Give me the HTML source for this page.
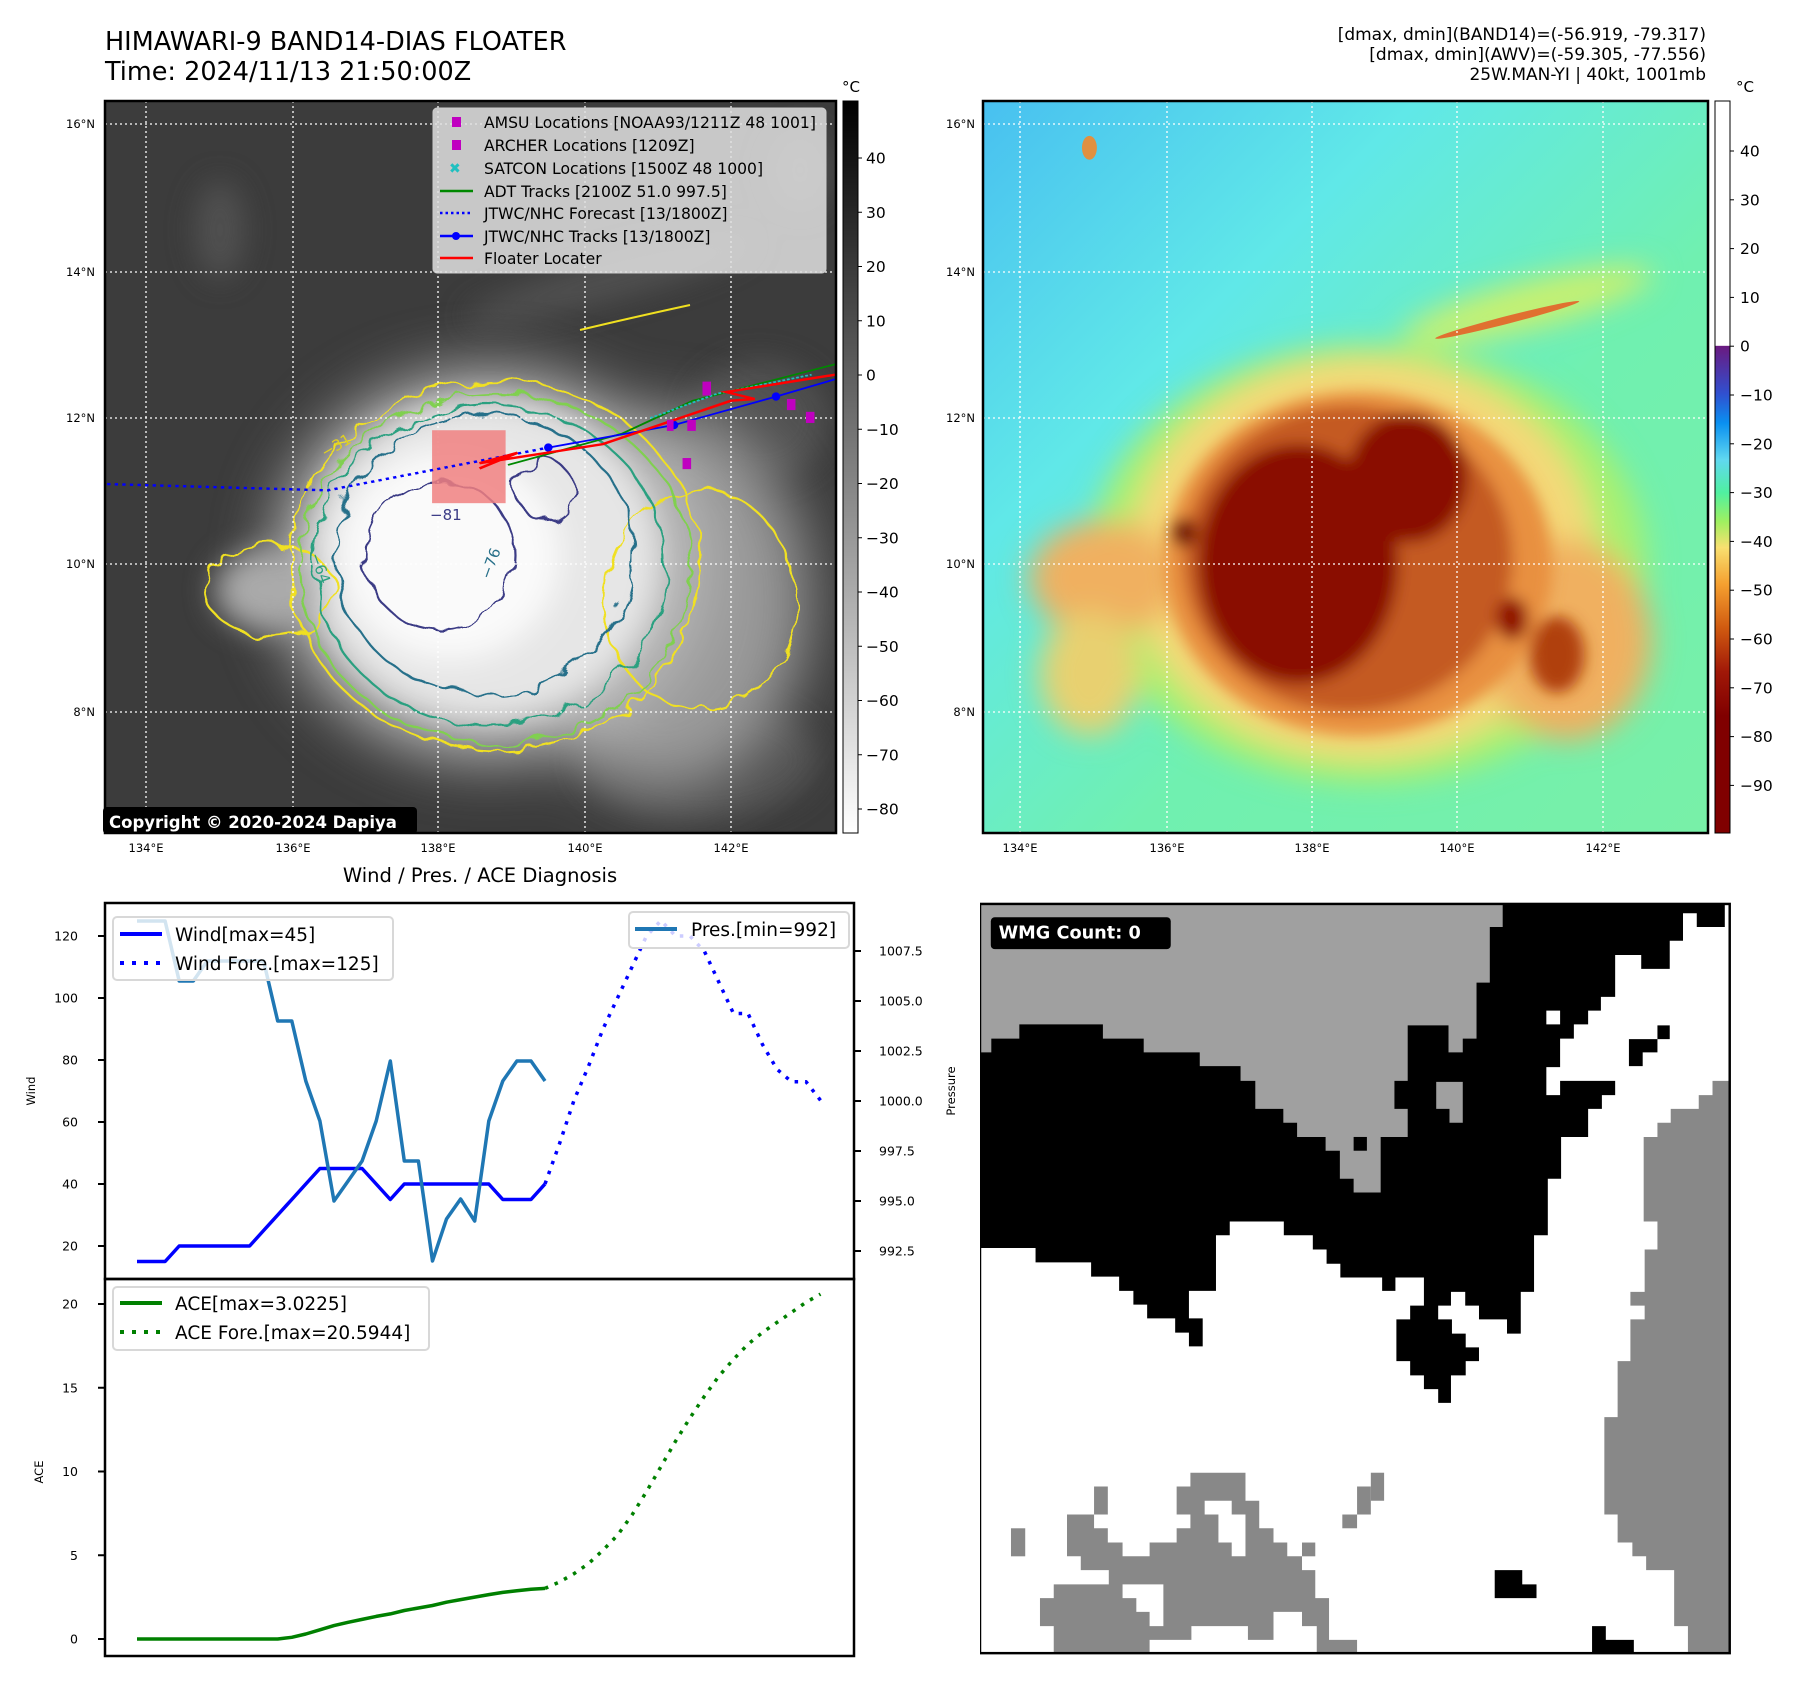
<!DOCTYPE html>
<html><head><meta charset="utf-8">
<style>
html,body{margin:0;padding:0;background:#fff;}
body{width:1797px;height:1690px;position:relative;overflow:hidden;font-family:"DejaVu Sans","Liberation Sans",sans-serif;}
svg text{font-family:"DejaVu Sans","Liberation Sans",sans-serif;}
</style></head>
<body>
<svg id="fig" width="1797" height="1690" viewBox="0 0 1797 1690" xmlns="http://www.w3.org/2000/svg" style="position:absolute;left:0;top:0">
<defs>
  <linearGradient id="cb1" x1="0" y1="0" x2="0" y2="1"><stop offset="0" stop-color="#000"/><stop offset="1" stop-color="#fff"/></linearGradient>
  <linearGradient id="cb2" x1="0" y1="0" x2="0" y2="1">
    <stop offset="0" stop-color="#fff"/><stop offset="0.334" stop-color="#fff"/>
    <stop offset="0.335" stop-color="#6a1a80"/><stop offset="0.40" stop-color="#3050d0"/>
    <stop offset="0.44" stop-color="#0a90f0"/><stop offset="0.49" stop-color="#60d8f0"/>
    <stop offset="0.535" stop-color="#50f0a0"/><stop offset="0.575" stop-color="#a0f060"/>
    <stop offset="0.61" stop-color="#f8e070"/><stop offset="0.66" stop-color="#f5a030"/>
    <stop offset="0.72" stop-color="#d05a10"/><stop offset="0.78" stop-color="#a01808"/>
    <stop offset="0.84" stop-color="#800000"/><stop offset="1" stop-color="#800000"/></linearGradient>
  <linearGradient id="bg2" x1="0" y1="0" x2="1" y2="1"><stop offset="0" stop-color="#48c0f0"/><stop offset="0.3" stop-color="#60e8e8"/><stop offset="0.6" stop-color="#70f0b0"/><stop offset="1" stop-color="#78f0a8"/></linearGradient>
  <filter id="b30" x="-50%" y="-50%" width="200%" height="200%"><feGaussianBlur stdDeviation="30"/></filter>
  <filter id="b15" x="-50%" y="-50%" width="200%" height="200%"><feGaussianBlur stdDeviation="15"/></filter>
  <filter id="b8" x="-50%" y="-50%" width="200%" height="200%"><feGaussianBlur stdDeviation="8"/></filter>
  <filter id="wob" x="-20%" y="-20%" width="140%" height="140%"><feTurbulence type="fractalNoise" baseFrequency="0.04" numOctaves="2" seed="3"/><feDisplacementMap in="SourceGraphic" scale="22"/></filter>
  <clipPath id="clipL"><rect x="105" y="101" width="731" height="732"/></clipPath>
  <clipPath id="clipR"><rect x="983" y="101" width="725" height="732"/></clipPath>
</defs>

<!-- titles -->
<text x="105" y="50" font-size="25.5">HIMAWARI-9 BAND14-DIAS FLOATER</text>
<text x="105" y="80" font-size="25.5">Time: 2024/11/13 21:50:00Z</text>
<g font-size="17" text-anchor="end">
  <text x="1706" y="40">[dmax, dmin](BAND14)=(-56.919, -79.317)</text>
  <text x="1706" y="60">[dmax, dmin](AWV)=(-59.305, -77.556)</text>
  <text x="1706" y="80">25W.MAN-YI | 40kt, 1001mb</text>
</g>

<!-- LEFT MAP -->
<g clip-path="url(#clipL)">
  <rect x="105" y="101" width="731" height="732" fill="#3c3c3c"/>
  <g filter="url(#b15)" fill="#5a5a5a" opacity="0.7">
    <ellipse cx="220" cy="230" rx="25" ry="50"/><ellipse cx="610" cy="280" rx="150" ry="20" transform="rotate(-15 610 280)"/>
    <ellipse cx="760" cy="420" rx="70" ry="60"/><ellipse cx="700" cy="760" rx="120" ry="60"/>
    <ellipse cx="800" cy="170" rx="30" ry="40"/>
  </g>
  <g filter="url(#b30)">
    <ellipse cx="660" cy="600" rx="150" ry="190" fill="#999"/>
    <ellipse cx="490" cy="565" rx="215" ry="195" fill="#b8b8b8"/>
  </g>
  <g filter="url(#b15)">
    <ellipse cx="485" cy="560" rx="175" ry="160" fill="#e6e6e6"/>
    <ellipse cx="450" cy="555" rx="110" ry="105" fill="#fafafa"/>
    <ellipse cx="270" cy="590" rx="55" ry="40" fill="#aaa"/>
  </g>
  <g fill="none" stroke-width="2.2" filter="url(#wob)">
    <ellipse cx="495" cy="565" rx="205" ry="185" stroke="#f0e020"/>
    <ellipse cx="270" cy="590" rx="65" ry="45" stroke="#f0e020"/>
    <ellipse cx="700" cy="600" rx="95" ry="110" stroke="#f0e020"/>
    <ellipse cx="495" cy="568" rx="195" ry="175" stroke="#80d050"/>
    <ellipse cx="490" cy="565" rx="175" ry="160" stroke="#2aa080"/>
    <ellipse cx="485" cy="555" rx="150" ry="140" stroke="#28708a"/>
    <ellipse cx="440" cy="555" rx="75" ry="75" stroke="#3a3a85"/>
    <ellipse cx="545" cy="490" rx="28" ry="30" stroke="#3a3a85"/>
  </g>
  <path d="M580 330 Q630 318 690 305" stroke="#f0e020" stroke-width="2" fill="none"/>
  <text x="325" y="458" fill="#e0d020" font-size="15" transform="rotate(-30 325 458)">−31</text>
  <text x="310" y="555" fill="#2aa080" font-size="15" transform="rotate(70 310 555)">−64</text>
  <text x="490" y="580" fill="#28708a" font-size="15" transform="rotate(-70 490 580)">−76</text>
  <text x="430" y="520" fill="#3a3a85" font-size="15">−81</text>
  <g stroke="#fff" stroke-width="1.3" stroke-dasharray="2,3">
    <line x1="146" y1="101" x2="146" y2="833"/><line x1="293" y1="101" x2="293" y2="833"/><line x1="438" y1="101" x2="438" y2="833"/><line x1="585" y1="101" x2="585" y2="833"/><line x1="731" y1="101" x2="731" y2="833"/>
    <line x1="105" y1="124" x2="836" y2="124"/><line x1="105" y1="272" x2="836" y2="272"/><line x1="105" y1="418" x2="836" y2="418"/><line x1="105" y1="564" x2="836" y2="564"/><line x1="105" y1="712" x2="836" y2="712"/>
  </g>
  <g transform="translate(100,300) scale(0.4744,0.3473)">
    <rect x="700" y="375" width="155" height="210" fill="#f08080" opacity="0.85"/>
    <polyline points="15,530 480,548 945,425" fill="none" stroke="#00f" stroke-width="7" stroke-dasharray="7,9"/>
    <polyline points="860,475 1100,385 1250,290 1550,185" fill="none" stroke="#080" stroke-width="5"/>
    <polyline points="1160,340 1300,270 1500,215" fill="none" stroke="#20c0c0" stroke-width="5" stroke-dasharray="6,4"/>
    <polyline points="945,425 1210,360 1425,278 1550,228" fill="none" stroke="#00f" stroke-width="5"/>
    <g fill="#00f"><ellipse cx="945" cy="425" rx="9" ry="12"/><ellipse cx="1210" cy="360" rx="9" ry="12"/><ellipse cx="1425" cy="278" rx="9" ry="12"/></g>
    <polyline points="800,485 880,440 800,470 1060,415 1330,290 1380,285 1320,265 1550,215" fill="none" stroke="#f00" stroke-width="7"/>
    <g fill="#c000c0">
      <rect x="1270" y="235" width="18" height="40"/><rect x="1448" y="285" width="18" height="32"/><rect x="1488" y="322" width="18" height="32"/>
      <rect x="1238" y="345" width="18" height="32"/><rect x="1228" y="455" width="18" height="32"/><rect x="1195" y="345" width="14" height="32"/>
    </g>
  </g>
</g>
<rect x="105" y="101" width="731" height="732" fill="none" stroke="#000" stroke-width="2.5"/>
<g>
  <rect x="103" y="807" width="314" height="27" rx="4" fill="#000"/>
  <text x="109" y="828" fill="#fff" font-size="16.5" font-weight="bold">Copyright © 2020-2024 Dapiya</text>
</g>
<g>
  <rect x="433" y="108" width="393" height="165" rx="4" fill="#e0e0e0" fill-opacity="0.85" stroke="#ccc"/>
  <g font-size="15.6" fill="#000">
    <rect x="452" y="117" width="9" height="10" fill="#c000c0"/><text x="484" y="128">AMSU Locations [NOAA93/1211Z 48 1001]</text>
    <rect x="452" y="140" width="9" height="10" fill="#c000c0"/><text x="484" y="151">ARCHER Locations [1209Z]</text>
    <text x="449" y="173" fill="#20c0c0" font-weight="bold" font-size="14">✖</text><text x="484" y="174">SATCON Locations [1500Z 48 1000]</text>
    <line x1="440" y1="191" x2="473" y2="191" stroke="#080" stroke-width="2.5"/><text x="484" y="197">ADT Tracks [2100Z 51.0 997.5]</text>
    <line x1="440" y1="213" x2="473" y2="213" stroke="#00f" stroke-width="2.5" stroke-dasharray="2.5,3"/><text x="484" y="219">JTWC/NHC Forecast [13/1800Z]</text>
    <line x1="440" y1="236" x2="473" y2="236" stroke="#00f" stroke-width="2.5"/><circle cx="456" cy="236" r="4" fill="#00f"/><text x="484" y="242">JTWC/NHC Tracks [13/1800Z]</text>
    <line x1="440" y1="258" x2="473" y2="258" stroke="#f00" stroke-width="2.5"/><text x="484" y="264">Floater Locater</text>
  </g>
</g>
<g font-size="11.5" text-anchor="end">
  <text x="95" y="128">16°N</text><text x="95" y="276">14°N</text><text x="95" y="422">12°N</text><text x="95" y="568">10°N</text><text x="95" y="716">8°N</text>
</g>
<g font-size="11.5" text-anchor="middle">
  <text x="146" y="852">134°E</text><text x="293" y="852">136°E</text><text x="438" y="852">138°E</text><text x="585" y="852">140°E</text><text x="731" y="852">142°E</text>
</g>
<g>
  <rect x="843" y="101" width="15" height="732" fill="url(#cb1)" stroke="#000" stroke-width="1"/>
  <text x="851" y="92" font-size="15" text-anchor="middle">°C</text>
  <g id="cb1ticks" font-size="15.5"></g>
</g>

<!-- RIGHT MAP -->
<g clip-path="url(#clipR)">
  <rect x="983" y="101" width="725" height="732" fill="url(#bg2)"/>
  <g transform="translate(980,100) scale(0.4974,0.478)">
    <g filter="url(#b30)">
      <ellipse cx="1100" cy="430" rx="260" ry="50" fill="#c8f070" transform="rotate(-15 1100 430)"/>
      <ellipse cx="780" cy="970" rx="560" ry="460" fill="#a8f070"/>
      <ellipse cx="770" cy="960" rx="470" ry="420" fill="#f4d878"/>
      <ellipse cx="250" cy="1000" rx="150" ry="120" fill="#f0b060"/>
      <ellipse cx="1180" cy="1130" rx="170" ry="210" fill="#f0b060"/>
      <ellipse cx="220" cy="1200" rx="100" ry="130" fill="#e8d070"/>
    </g>
    <g filter="url(#b15)">
      <ellipse cx="760" cy="970" rx="390" ry="360" fill="#e89040"/>
      <ellipse cx="740" cy="960" rx="330" ry="320" fill="#c45a20"/>
      <ellipse cx="640" cy="970" rx="200" ry="250" fill="#8a0800"/>
      <ellipse cx="860" cy="790" rx="120" ry="135" fill="#8a0800"/>
      <ellipse cx="1160" cy="1160" rx="55" ry="80" fill="#b04010"/>
      <ellipse cx="1070" cy="1085" rx="32" ry="45" fill="#901000"/>
      <ellipse cx="410" cy="905" rx="25" ry="30" fill="#701000"/>
    </g>
    <ellipse cx="1060" cy="460" rx="150" ry="8" fill="#e07030" transform="rotate(-15 1060 460)"/>
    <ellipse cx="220" cy="100" rx="15" ry="25" fill="#e09040"/>
  </g>
  <g stroke="#fff" stroke-width="1.3" stroke-dasharray="2,3">
    <line x1="1020" y1="101" x2="1020" y2="833"/><line x1="1167" y1="101" x2="1167" y2="833"/><line x1="1312" y1="101" x2="1312" y2="833"/><line x1="1457" y1="101" x2="1457" y2="833"/><line x1="1603" y1="101" x2="1603" y2="833"/>
    <line x1="983" y1="124" x2="1708" y2="124"/><line x1="983" y1="272" x2="1708" y2="272"/><line x1="983" y1="418" x2="1708" y2="418"/><line x1="983" y1="564" x2="1708" y2="564"/><line x1="983" y1="712" x2="1708" y2="712"/>
  </g>
</g>
<rect x="983" y="101" width="725" height="732" fill="none" stroke="#000" stroke-width="2.5"/>
<g font-size="11.5" text-anchor="end">
  <text x="975" y="128">16°N</text><text x="975" y="276">14°N</text><text x="975" y="422">12°N</text><text x="975" y="568">10°N</text><text x="975" y="716">8°N</text>
</g>
<g font-size="11.5" text-anchor="middle">
  <text x="1020" y="852">134°E</text><text x="1167" y="852">136°E</text><text x="1312" y="852">138°E</text><text x="1457" y="852">140°E</text><text x="1603" y="852">142°E</text>
</g>
<g>
  <rect x="1715" y="101" width="15" height="732" fill="url(#cb2)" stroke="#000" stroke-width="1"/>
  <text x="1745" y="92" font-size="15" text-anchor="middle">°C</text>
  <g id="cb2ticks" font-size="15.5"></g>
</g>

<!-- WIND / PRES / ACE -->
<text x="480" y="882" font-size="19.5" text-anchor="middle">Wind / Pres. / ACE Diagnosis</text>
<g id="windChart"></g>
<g id="aceChart"></g>
<rect x="105" y="903" width="749" height="376" fill="none" stroke="#000" stroke-width="2.5"/>
<rect x="105" y="1279" width="749" height="377" fill="none" stroke="#000" stroke-width="2.5"/>
<text x="35" y="1091" font-size="11.5" text-anchor="middle" transform="rotate(-90 35 1091)">Wind</text>
<text x="955" y="1091" font-size="11.5" text-anchor="middle" transform="rotate(-90 955 1091)">Pressure</text>
<text x="43" y="1472" font-size="11.5" text-anchor="middle" transform="rotate(-90 43 1472)">ACE</text>

<g>
  <rect x="113" y="917" width="280" height="63" rx="4" fill="#fff" fill-opacity="0.8" stroke="#d8d8d8" stroke-width="2"/>
  <line x1="120" y1="934" x2="162" y2="934" stroke="#00f" stroke-width="4"/>
  <text x="175" y="941" font-size="18.5">Wind[max=45]</text>
  <line x1="120" y1="963" x2="162" y2="963" stroke="#00f" stroke-width="4" stroke-dasharray="4,8"/>
  <text x="175" y="970" font-size="18.5">Wind Fore.[max=125]</text>
</g>
<g>
  <rect x="629" y="912" width="220" height="36" rx="4" fill="#fff" fill-opacity="0.8" stroke="#d8d8d8" stroke-width="2"/>
  <line x1="635" y1="929" x2="677" y2="929" stroke="#1f77b4" stroke-width="4"/>
  <text x="691" y="936" font-size="18.5">Pres.[min=992]</text>
</g>
<g>
  <rect x="113" y="1287" width="316" height="63" rx="4" fill="#fff" fill-opacity="0.8" stroke="#d8d8d8" stroke-width="2"/>
  <line x1="120" y1="1303" x2="162" y2="1303" stroke="#008000" stroke-width="4"/>
  <text x="175" y="1310" font-size="18.5">ACE[max=3.0225]</text>
  <line x1="120" y1="1332" x2="162" y2="1332" stroke="#008000" stroke-width="4" stroke-dasharray="4,8"/>
  <text x="175" y="1339" font-size="18.5">ACE Fore.[max=20.5944]</text>
</g>

<!-- WMG PANEL -->
<g>
<svg x="980" y="900" width="762" height="762" viewBox="0 0 1550 1550" preserveAspectRatio="none">
  <rect x="0" y="8" width="1525" height="1524" fill="#fff"/>
  <polygon fill="#000" points="0,310 0,708 113,708 113,737 226,737 226,766 283,766 283,795 312,795 312,823 340,823 340,851 397,851 397,880 425,880 425,908 453,908 453,851 425,851 425,795 480,795 480,682 508,682 508,654 618,654 618,682 677,682 677,711 705,711 705,740 733,740 733,768 818,768 818,795 845,795 845,768 903,768 903,825 875,825 875,853 847,853 847,938 875,938 875,967 903,967 903,995 932,995 932,1023 958,1023 958,967 988,967 988,938 1015,938 1015,910 988,910 988,882 960,882 960,853 932,853 932,825 958,825 958,797 987,797 987,825 1015,825 1015,853 1072,853 1072,882 1100,882 1100,797 1127,797 1127,682 1155,682 1155,567 1182,567 1182,482 1237,482 1237,425 1265,425 1265,397 1292,397 1292,368 1180,368 1180,397 1152,397 1152,340 1180,340 1180,282 1208,282 1208,253 1237,253 1237,225 1263,225 1263,197 1292,197 1292,112 1345,112 1345,140 1403,140 1403,83 1430,83 1430,27 1458,27 1458,55 1515,55 1515,8 1063,8 1063,55 0,55"/>
  <polygon fill="#a0a0a0" points="0,8 1063,8 1063,55 1037,55 1037,168 1010,168 1010,282 982,282 982,310 953,310 953,255 870,255 870,368 843,368 843,425 870,425 870,482 815,482 815,595 760,595 760,567 732,567 732,510 703,510 703,482 645,482 645,453 617,453 617,425 560,425 560,368 530,368 530,338 447,338 447,310 333,310 333,282 250,282 250,253 80,253 80,282 23,282 23,310 0,310"/>
  <polygon fill="#a0a0a0" points="928,370 982,370 982,453 955,453 955,425 928,425"/>
  <rect x="760" y="482" width="27" height="28" fill="#000"/>
  <rect x="1152" y="225" width="28" height="28" fill="#fff"/>
  <polygon fill="#000" points="1378,255 1403,255 1403,283 1378,283 1378,310 1348,310 1348,338 1320,338 1320,283 1378,283"/>
  <polygon fill="#888" points="1525,368 1490,368 1490,397 1462,397 1462,425 1405,425 1405,453 1378,453 1378,482 1350,482 1350,654 1378,654 1378,711 1352,711 1352,797 1323,797 1323,825 1352,825 1352,853 1323,853 1323,938 1297,938 1297,1052 1270,1052 1270,1250 1297,1250 1297,1307 1327,1307 1327,1335 1355,1335 1355,1363 1412,1363 1412,1477 1440,1477 1440,1532 1525,1532"/>
  <polygon fill="#888" points="150,1532 150,1477 122,1477 122,1420 150,1420 150,1392 262,1392 262,1363 205,1363 205,1335 177,1335 177,1250 232,1250 232,1278 260,1278 260,1307 290,1307 290,1335 345,1335 345,1307 400,1307 400,1278 428,1278 428,1250 400,1250 400,1193 428,1193 428,1165 540,1165 540,1222 568,1222 568,1278 597,1278 597,1307 625,1307 625,1335 655,1335 655,1363 682,1363 682,1420 710,1420 710,1505 767,1505 767,1532"/>
  <polygon fill="#fff" points="290,1392 373,1392 373,1477 345,1477 345,1448 318,1448 318,1420 290,1420"/>
  <polygon fill="#fff" points="457,1222 512,1222 512,1250 540,1250 540,1335 512,1335 512,1307 485,1307 485,1250 457,1250"/>
  <polygon fill="#fff" points="345,1505 430,1505 430,1477 545,1477 545,1505 597,1505 597,1448 655,1448 655,1477 685,1477 685,1532 345,1532"/>
  <g fill="#888"><rect x="63" y="1278" width="29" height="57"/><rect x="232" y="1193" width="28" height="57"/><rect x="655" y="1307" width="27" height="28"/><rect x="737" y="1250" width="30" height="28"/><rect x="767" y="1193" width="28" height="57"/><rect x="795" y="1165" width="27" height="57"/></g>
  <polygon fill="#000" points="1047,1363 1103,1363 1103,1392 1132,1392 1132,1420 1047,1420"/>
  <polygon fill="#000" points="1245,1477 1273,1477 1273,1505 1330,1505 1330,1532 1245,1532"/>
  <rect x="0" y="8" width="1525" height="1524" fill="none" stroke="#000" stroke-width="5"/>
  <rect x="22" y="35" width="366" height="65" rx="8" fill="#000"/>
  <text x="38" y="78" fill="#fff" font-size="36" font-weight="bold">WMG Count: 0</text>
</svg>
</g>
</svg>

<script>
// ---- data ----
const windObs = [15,15,15,20,20,20,20,20,20,25,30,35,40,45,45,45,45,40,35,40,40,40,40,40,40,40,35,35,35,40];
const windFore = [40,53,67,78,90,100,110,120,125,120,120,115,105,95,95,85,77,73,73,67];
const presObs = [1009,1009,1009,1006,1006,1007,1007,1007,1007,1007,1004,1004,1001,999,995,996,997,999,1002,997,997,992,994.1,995.1,994,999,1001,1002,1002,1001];
const aceObs = [0,0,0,0,0,0,0,0,0,0,0,0.1,0.3,0.55,0.8,1.0,1.17,1.35,1.5,1.7,1.85,2.0,2.2,2.35,2.5,2.65,2.78,2.88,2.97,3.02];
const aceFore = [3.02,3.4,3.9,4.5,5.3,6.2,7.4,8.8,10.3,11.8,13.2,14.5,15.7,16.7,17.6,18.3,18.9,19.5,20.1,20.59];
const windTicks = [20,40,60,80,100,120];
const presTicks = [992.5,995.0,997.5,1000.0,1002.5,1005.0,1007.5];
const aceTicks = [0,5,10,15,20];
const cb1Ticks = [40,30,20,10,0,-10,-20,-30,-40,-50,-60,-70,-80];
const cb2Ticks = [40,30,20,10,0,-10,-20,-30,-40,-50,-60,-70,-80,-90];

const NS = 'http://www.w3.org/2000/svg';
const xAt = i => i <= 29 ? 137 + 14.07 * i : 545 + 14.5 * (i - 29);
const yWind = w => 1246 - (w - 20) * 3.1;
const yPres = p => 1251 - (p - 992.5) * 20;
const yAce = a => 1639 - a * 16.75;
const yCb1 = v => 158 + (40 - v) * 5.425;
const yCb2 = v => 151 + (40 - v) * 4.88;

function mk(tag, attrs, parent) {
  const e = document.createElementNS(NS, tag);
  for (const k in attrs) e.setAttribute(k, attrs[k]);
  parent.appendChild(e);
  return e;
}
function line(pts, color, w, dash, parent, name) {
  const p = mk('polyline', {points: pts.map(q => q[0].toFixed(1) + ',' + q[1].toFixed(1)).join(' '), fill: 'none', stroke: color, 'stroke-width': w, 'stroke-linejoin': 'round'}, parent);
  if (dash) p.setAttribute('stroke-dasharray', dash);
  
  
  return p;
}
function tickLabel(x, y, txt, anchor, parent, size) {
  const t = mk('text', {x: x, y: y, 'text-anchor': anchor, 'font-size': size || 12.5}, parent);
  t.textContent = txt;
  
  
  return t;
}

const wc = document.getElementById('windChart');
const ac = document.getElementById('aceChart');
windTicks.forEach(v => {
  const y = yWind(v);
  mk('line', {x1: 98, x2: 105, y1: y, y2: y, stroke: '#000', 'stroke-width': 2}, wc);
  tickLabel(78, y + 4.5, String(v), 'end', wc);
});
presTicks.forEach(v => {
  const y = yPres(v);
  mk('line', {x1: 854, x2: 861, y1: y, y2: y, stroke: '#000', 'stroke-width': 2}, wc);
  tickLabel(879, y + 4.5, v.toFixed(1), 'start', wc);
});
aceTicks.forEach(v => {
  const y = yAce(v);
  mk('line', {x1: 98, x2: 105, y1: y, y2: y, stroke: '#000', 'stroke-width': 2}, ac);
  tickLabel(78, y + 4.5, String(v), 'end', ac);
});
line(windObs.map((v, i) => [xAt(i), yWind(v)]), '#0000ff', 3.5, null, wc, 'wind-line');
line(windFore.map((v, i) => [xAt(i + windObs.length - 1), yWind(v)]), '#0000ff', 3.5, '3.5,7', wc, 'wind-forecast-line');
line(presObs.map((v, i) => [xAt(i), yPres(v)]), '#1f77b4', 3.5, null, wc, 'pressure-line');
line(aceObs.map((v, i) => [xAt(i), yAce(v)]), '#008000', 3.5, null, ac, 'ace-line');
line(aceFore.map((v, i) => [xAt(i + aceObs.length - 1), yAce(v)]), '#008000', 3.5, '3.5,7', ac, 'ace-forecast-line');

const c1 = document.getElementById('cb1ticks');
cb1Ticks.forEach(v => {
  const y = yCb1(v);
  mk('line', {x1: 858, x2: 862, y1: y, y2: y, stroke: '#000', 'stroke-width': 1}, c1);
  tickLabel(866, y + 5.5, (v < 0 ? '−' : '') + Math.abs(v), 'start', c1, 15.5);
});
const c2 = document.getElementById('cb2ticks');
cb2Ticks.forEach(v => {
  const y = yCb2(v);
  mk('line', {x1: 1730, x2: 1734, y1: y, y2: y, stroke: '#000', 'stroke-width': 1}, c2);
  tickLabel(1740, y + 5.5, (v < 0 ? '−' : '') + Math.abs(v), 'start', c2, 15.5);
});
</script>
</body></html>
